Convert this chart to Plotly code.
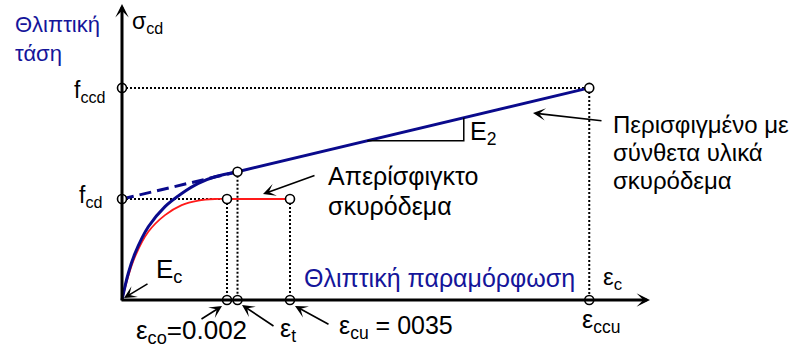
import plotly.graph_objects as go

# Characteristic strains (-) and stresses (MPa)
eps_co = 0.002
eps_t = 0.0022
eps_cu = 0.0032
eps_ccu = 0.0089
f_cd = 20.0
f_t = 25.4
f_ccd = 42.0

# Confined (FRP) concrete, initial curved branch up to eps_t
conf_eps = [0.0, 0.00012, 0.000248, 0.000501, 0.000819, 0.001137, 0.001453, 0.001771, 0.0022]
conf_sig = [0.0, 5.3, 9.25, 14.5, 18.5, 21.1, 23.1, 24.4, 25.4]

# Unconfined concrete, parabolic branch up to eps_co
unconf_eps = [0.0, 0.00012, 0.000248, 0.000501, 0.000819, 0.001137, 0.001453, 0.001771, 0.002]
unconf_sig = [0.0, 4.75, 8.6, 13.5, 16.8, 18.8, 19.7, 20.0, 20.0]

NAVY = "#0a0a8c"
TXT_BLUE = "#15159a"
FONT = "Liberation Sans, Arial, sans-serif"

# page geometry: pixel position of the origin and scale of both axes
W, H = 798, 352
OX, OY = 122, 300
SX, SY = 52500.0, 5.05


def P(px, py):
    return (px - OX) / SX, (OY - py) / SY


fig = go.Figure()


# dotted guide lines
def dotted(xs, ys):
    fig.add_trace(go.Scatter(x=xs, y=ys, mode="lines", hoverinfo="skip",
                             line=dict(color="black", width=2, dash="2px,2px")))


dotted([0, eps_ccu], [f_ccd, f_ccd])
dotted([eps_ccu, eps_ccu], [f_ccd, 0])
dotted([0, eps_co], [f_cd, f_cd])
dotted([eps_co, eps_co], [f_cd, 0])
dotted([eps_t, eps_t], [f_t, 0])
dotted([eps_cu, eps_cu], [f_cd, 0])

# unconfined concrete
fig.add_trace(go.Scatter(x=unconf_eps + [eps_cu], y=unconf_sig + [f_cd], mode="lines",
                         line=dict(color="#ff1a1a", width=1.8, shape="spline", smoothing=1.0)))

# confined concrete: curved branch, linear branch with slope E2 and its back-extension
fig.add_trace(go.Scatter(x=conf_eps, y=conf_sig, mode="lines",
                         line=dict(color=NAVY, width=3, shape="spline", smoothing=1.0)))
fig.add_trace(go.Scatter(x=[eps_t, eps_ccu], y=[f_t, f_ccd], mode="lines",
                         line=dict(color=NAVY, width=3)))
fig.add_trace(go.Scatter(x=[0, eps_t], y=[f_cd, f_t], mode="lines",
                         line=dict(color=NAVY, width=3, dash="12px,6px")))

# slope triangle for E2
E2 = (f_ccd - f_t) / (eps_ccu - eps_t)
e1, e2 = 0.00467, 0.00651
s1 = f_t + E2 * (e1 - eps_t)
s2 = f_t + E2 * (e2 - eps_t)
fig.add_trace(go.Scatter(x=[e1, e2, e2], y=[s1, s1, s2], mode="lines",
                         line=dict(color="black", width=1.5)))

# open circle markers
mx = [0, 0, eps_co, eps_t, eps_cu, eps_ccu, eps_co, eps_t, eps_cu, eps_ccu]
my = [f_ccd, f_cd, f_cd, f_t, f_cd, f_ccd, 0, 0, 0, 0]
fig.add_trace(go.Scatter(x=mx, y=my, mode="markers",
                         marker=dict(symbol="circle", size=9, color="white",
                                     line=dict(color="black", width=1.6))))

ann = []

# axes with arrow heads
xt, yt = P(650, 300)
ann.append(dict(x=xt, y=0, ax=P(120, 300)[0], ay=0, xref="x", yref="y", axref="x", ayref="y",
                text="", showarrow=True, arrowhead=3, arrowsize=0.75, arrowwidth=3, arrowcolor="black"))
xt, yt = P(122, 4)
ann.append(dict(x=0, y=yt, ax=0, ay=P(122, 302)[1], xref="x", yref="y", axref="x", ayref="y",
                text="", showarrow=True, arrowhead=3, arrowsize=0.75, arrowwidth=3, arrowcolor="black"))


def pointer(tail, head):
    hx, hy = P(*head)
    tx, ty = P(*tail)
    ann.append(dict(x=hx, y=hy, ax=tx, ay=ty, xref="x", yref="y", axref="x", ayref="y",
                    text="", showarrow=True, arrowhead=3, arrowsize=1.3, arrowwidth=1.6,
                    arrowcolor="black"))


pointer((149, 283), (124, 298))
pointer((316, 175), (263, 194))
pointer((603, 121), (533, 113))
pointer((200, 320), (222, 306))
pointer((275, 327), (242, 305))
pointer((330, 325), (295, 306))


def label(px, py, text, size=22, color="black", xanchor="left"):
    x, y = P(px, py)
    ann.append(dict(x=x, y=y, xref="x", yref="y", text=text, showarrow=False,
                    xanchor=xanchor, yanchor="middle",
                    font=dict(family=FONT, size=size, color=color)))


label(13, 24, "Θλιπτική", color=TXT_BLUE)
label(13, 53, "τάση", color=TXT_BLUE)
label(130, 22, "σ<sub>cd</sub>", size=23)
label(107, 91, "f<sub>ccd</sub>", size=23, xanchor="right")
label(104, 196, "f<sub>cd</sub>", size=23, xanchor="right")
label(154, 270, "E<sub>c</sub>", size=26)
label(468, 133, "E<sub>2</sub>", size=25)
label(326, 176, "Απερίσφιγκτο", size=25)
label(326, 206, "σκυρόδεμα", size=25)
label(611, 124, "Περισφιγμένο με", size=24)
label(611, 152, "σύνθετα υλικά", size=24)
label(611, 180, "σκυρόδεμα", size=24)
label(302, 278, "Θλιπτική παραμόρφωση", size=25, color=TXT_BLUE)
label(601, 278, "ε<sub>c</sub>", size=24)
label(580, 321, "ε<sub>ccu</sub>", size=25)
label(134, 331, "ε<sub>co</sub>=0.002", size=26)
label(278, 330, "ε<sub>t</sub>", size=25)
label(337, 327, "ε<sub>cu</sub> = 0035", size=25)

fig.update_layout(
    width=W, height=H,
    margin=dict(l=0, r=0, t=0, b=0),
    paper_bgcolor="white", plot_bgcolor="white",
    showlegend=False,
    xaxis=dict(range=[-OX / SX, (W - OX) / SX], visible=False, fixedrange=True),
    yaxis=dict(range=[-(H - OY) / SY, OY / SY], visible=False, fixedrange=True),
    annotations=ann,
)

fig.write_html("out.html")
